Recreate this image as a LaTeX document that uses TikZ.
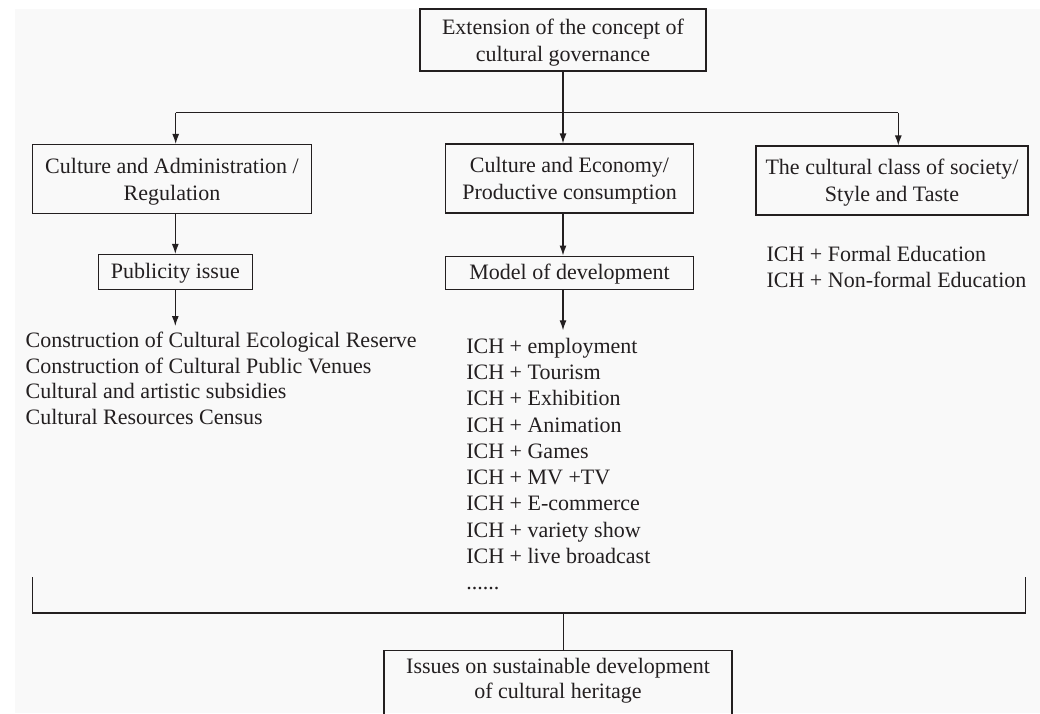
\documentclass[tikz,border=0pt]{standalone}
\usepackage{fontspec}
\setmainfont{Liberation Serif}
\usetikzlibrary{arrows.meta}
\definecolor{ink}{RGB}{35,31,32}
\definecolor{paper}{RGB}{249,249,249}

\begin{document}
\begin{tikzpicture}
          [x=1pt, y=-1pt, line width=1.2pt, color=ink,
           >={Latex[length=10pt,width=7pt]},
           font=\fontsize{22pt}{27pt}\selectfont,
           box/.style = {draw, inner sep=0pt, align=center},
           twoline/.style = {box, text height=42pt, text depth=0pt},
           oneline/.style = {box, text height=15pt, text depth=2pt},
           list/.style = {inner sep=0pt, align=left, anchor=north west}]
          \clip (0,0) rectangle (1040,713);
          \fill[white] (0,0) rectangle (1040,713);
          \fill[paper] (15,9) rectangle (1040,713);

          \node[twoline, minimum width=286pt, minimum height=62pt] (1) at (563,40) {Extension of the concept of\\cultural governance};
          \node[twoline, minimum width=279pt, minimum height=69pt] (2) at (172,179) {Culture and Administration /\\Regulation};
          \node[twoline, minimum width=248pt, minimum height=69pt] (3) at (569.5,178.5) {Culture and Economy/\\Productive consumption};
          \node[twoline, minimum width=272pt, minimum height=69pt] (4) at (892,180.5) {The cultural class of society/\\Style and Taste};
          \node[oneline, minimum width=154pt, minimum height=35pt] (5) at (175.3,272) {Publicity issue};
          \node[oneline, minimum width=248pt, minimum height=33pt] (6) at (569.5,272.6) {Model of development};

          \node[list, font=\fontsize{22pt}{25.5pt}\selectfont] (7) at (25,331.7)
               {Construction of Cultural Ecological Reserve\\Construction of Cultural Public Venues\\Cultural and artistic subsidies\\Cultural Resources Census};
          \node[list, font=\fontsize{22pt}{26.3pt}\selectfont] (8) at (465.7,337.3)
               {ICH + employment\\ICH + Tourism\\ICH + Exhibition\\ICH + Animation\\ICH + Games\\ICH + MV +TV\\ICH + E-commerce\\ICH + variety show\\ICH + live broadcast\\......};
          \node[list, font=\fontsize{22pt}{25.7pt}\selectfont] (9) at (766,246) {ICH + Formal Education\\ICH + Non-formal Education};

          \node[box, minimum width=348pt, inner ysep=8pt, text depth=16pt, anchor=north, font=\fontsize{22pt}{25pt}\selectfont] (10) at (558,650)
               {Issues on sustainable development\\of cultural heritage};

          \coordinate (j) at (563,112.7);
          \coordinate (l) at (175.7,112.7);
          \coordinate (r) at (898.3,112.7);
          \coordinate (a) at (32.3,577);
          \coordinate (b) at (1025.7,577);
          \coordinate (m) at (563.3,613);

          \draw (1) -- (j);
          \draw (l) -- (r);
          \draw[->] (l) -- (l |- 2.north);
          \draw[->] (j) -- (j |- 3.north);
          \draw[->] (r) -- (r |- 4.north);
          \draw[->] (2.south -| 5) -- (5);
          \draw[->, shorten >=5.7pt] (5) -- (5 |- 7.north);
          \draw[->] (3.south -| j) -- (6.north -| j);
          \draw[->, shorten >=7pt] (6.south -| j) -- (j |- 8.north);
          \draw (a) |- (m) -| (b);
          \draw (m) -- (m |- 10.north);
\end{tikzpicture}
\end{document}
